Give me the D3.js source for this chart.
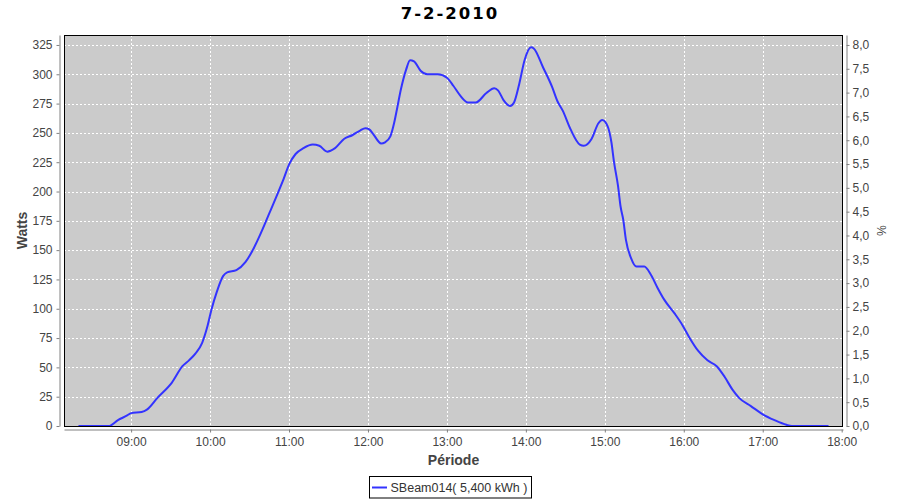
<!DOCTYPE html>
<html>
<head>
<meta charset="utf-8">
<script src="https://cdn.jsdelivr.net/npm/d3@7"></script>
<style>
  html, body { margin: 0; padding: 0; background: #ffffff; }
  svg { display: block; }
</style>
</head>
<body>
<svg id="chart" width="900" height="500"></svg>
<script>
// ---- data ----
const chartTitle = "7-2-2010";
const seriesName = "SBeam014( 5,400 kWh )";
const times = ["08:20","08:43","08:50","08:57","09:00","09:08","09:12","09:20","09:31","09:39",
  "09:44","09:49","09:54","09:58","10:01","10:05","10:10","10:13","10:20","10:27",
  "10:32","10:38","10:43","10:46","10:52","10:56","11:00","11:05","11:11","11:18",
  "11:23","11:29","11:35","11:42","11:48","11:54","11:58","12:01","12:04","12:10",
  "12:13","12:17","12:20","12:22","12:25","12:29","12:32","12:35","12:40","12:45",
  "12:53","13:00","13:05","13:10","13:16","13:22","13:30","13:36","13:39","13:43",
  "13:48","13:51","13:55","13:59","14:04","14:06","14:13","14:20","14:24","14:28",
  "14:34","14:41","14:44","14:50","14:55","14:58","15:02","15:05","15:07","15:10",
  "15:12","15:14","15:16","15:20","15:24","15:30","15:35","15:40","15:45","15:53",
  "15:59","16:04","16:11","16:18","16:25","16:31","16:37","16:42","16:51","17:00",
  "17:09","17:18","17:22","17:50"];
const watts = [0,0,5,9,11,12,14,24,37,51,
  56,62,71,85,99,114,128,131,133,140,
  149,163,176,184,200,211,223,232,237,240,
  239,234,237,245,248,252,254,253,249,241,
  242,247,259,270,287,304,312,311,303,300,
  300,297,290,282,276,276,284,288,286,278,
  273,276,292,312,323,322,306,289,277,269,
  253,240,239,245,258,261,256,242,225,205,
  187,176,159,143,136,136,129,118,108,96,
  86,76,64,56,51,42,31,24,17,10,
  5,1,0,0];
const hourTicks = ["09:00","10:00","11:00","12:00","13:00","14:00","15:00","16:00","17:00","18:00"];
const wattTicks = [0,25,50,75,100,125,150,175,200,225,250,275,300,325];
const pctTicks = [0,0.5,1,1.5,2,2.5,3,3.5,4,4.5,5,5.5,6,6.5,7,7.5,8];
const xDomain = ["08:09","18:01"];
const wattMax = 333.5;
const wattsPerPct = 40.625;

// ---- layout ----
const svg = d3.select("#chart");
const L = 64, R = 843, T = 35, B = 426;
const parse = d3.timeParse("%Y-%m-%d %H:%M");
const toDate = s => parse("2010-02-07 " + s);

const x = d3.scaleTime().domain(xDomain.map(toDate)).range([L, R]);
const y = d3.scaleLinear().domain([0, wattMax]).range([B, T]);
const yPct = d3.scaleLinear().domain([0, wattMax / wattsPerPct]).range([B, T]);

const data = times.map((t, i) => ({ t: toDate(t), w: watts[i] }));

// background
svg.append("rect").attr("x", 0).attr("y", 0).attr("width", 900).attr("height", 500).attr("fill", "#ffffff");
svg.append("rect").attr("x", L).attr("y", T).attr("width", R - L).attr("height", B - T).attr("fill", "#cbcbcb");

// grid
const grid = svg.append("g").attr("stroke", "#ffffff").attr("stroke-width", 1).attr("stroke-dasharray", "2,2");
grid.selectAll("line.h").data(wattTicks).join("line")
  .attr("x1", L).attr("x2", R)
  .attr("y1", d => Math.round(y(d)) + 0.5).attr("y2", d => Math.round(y(d)) + 0.5);
grid.selectAll("line.v").data(hourTicks.map(toDate)).join("line")
  .attr("x1", d => Math.round(x(d)) + 0.5).attr("x2", d => Math.round(x(d)) + 0.5)
  .attr("y1", T).attr("y2", B);

// series line
const line = d3.line().x(d => x(d.t)).y(d => y(d.w)).curve(d3.curveMonotoneX);
svg.append("path").datum(data)
  .attr("fill", "none").attr("stroke", "#3333ff").attr("stroke-width", 2)
  .attr("stroke-linejoin", "round").attr("d", line);

// plot border
svg.append("rect").attr("x", L + 0.5).attr("y", T + 0.5).attr("width", R - L - 1).attr("height", B - T)
  .attr("fill", "none").attr("stroke", "#000000").attr("stroke-width", 1);

// axes
function styleAxis(g) {
  g.selectAll(".domain").attr("stroke", "#808080");
  g.selectAll(".tick line").attr("stroke", "#808080");
  g.selectAll(".tick text").attr("fill", "#444444")
    .style("font-family", "'Liberation Sans', Arial, sans-serif").style("font-size", "12px");
}
const yAxis = svg.append("g").attr("transform", "translate(59.5,0)")
  .call(d3.axisLeft(y).tickValues(wattTicks).tickSize(3).tickSizeOuter(0).tickPadding(4));
styleAxis(yAxis);

const xAxis = svg.append("g").attr("transform", "translate(0,429.5)")
  .call(d3.axisBottom(x).tickValues(hourTicks.map(toDate)).tickFormat(d3.timeFormat("%H:%M"))
    .tickSize(3).tickSizeOuter(0).tickPadding(5));
styleAxis(xAxis);

const pAxis = svg.append("g").attr("transform", "translate(846.5,0)")
  .call(d3.axisRight(yPct).tickValues(pctTicks).tickFormat(d => d.toFixed(1).replace(".", ","))
    .tickSize(3).tickSizeOuter(0).tickPadding(3));
styleAxis(pAxis);

// title
svg.append("text").attr("x", 450).attr("y", 19).attr("text-anchor", "middle")
  .style("font-family", "'DejaVu Sans', sans-serif").style("font-weight", "bold")
  .style("font-size", "16.5px").style("letter-spacing", "2px").attr("fill", "#000000")
  .text(chartTitle);

// axis labels
svg.append("text").attr("x", (L + R) / 2).attr("y", 465).attr("text-anchor", "middle")
  .style("font-family", "'Liberation Sans', Arial, sans-serif").style("font-weight", "bold")
  .style("font-size", "14px").attr("fill", "#444444").text("Période");
svg.append("text").attr("transform", `translate(27,${(T + B) / 2}) rotate(-90)`).attr("text-anchor", "middle")
  .style("font-family", "'Liberation Sans', Arial, sans-serif").style("font-weight", "bold")
  .style("font-size", "14px").attr("fill", "#444444").text("Watts");
svg.append("text").attr("transform", `translate(877,${(T + B) / 2}) rotate(90)`).attr("text-anchor", "middle")
  .style("font-family", "'Liberation Sans', Arial, sans-serif")
  .style("font-size", "12px").attr("fill", "#444444").text("%");

// legend
const lg = svg.append("g");
lg.append("rect").attr("x", 369.5).attr("y", 476.5).attr("width", 162).attr("height", 21.5)
  .attr("fill", "#ffffff").attr("stroke", "#000000").attr("stroke-width", 1);
lg.append("line").attr("x1", 372).attr("x2", 387).attr("y1", 487.5).attr("y2", 487.5)
  .attr("stroke", "#3333ff").attr("stroke-width", 2);
lg.append("text").attr("x", 390.5).attr("y", 492)
  .style("font-family", "'Liberation Sans', Arial, sans-serif").style("font-size", "12.5px")
  .attr("fill", "#333333").text(seriesName);
</script>
</body>
</html>
